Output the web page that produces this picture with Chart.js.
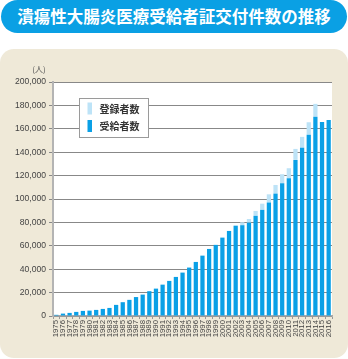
<!DOCTYPE html>
<html lang="ja">
<head>
<meta charset="utf-8">
<title>潰瘍性大腸炎医療受給者証交付件数の推移</title>
<script src="https://cdn.jsdelivr.net/npm/chart.js@4"></script>
<style>
    html, body { margin: 0; padding: 0; background: #fff; }
    #wrap { position: relative; width: 348px; height: 359px; overflow: hidden; }
    #title {
        position: absolute; left: 1px; top: 0; width: 346px; height: 33px;
        border-radius: 17px; background: #0aa0e4; color: #fff;
        font: bold 16.5px "Noto Sans CJK JP", sans-serif;
        line-height: 33px; text-align: center;
    }
    #panel {
        position: absolute; left: 0; top: 49px; width: 348px; height: 309px;
        border-radius: 14px; background: #efe9d8;
    }
    #myChart { position: absolute; left: 0; top: 0; }
</style>
</head>
<body>
<div id="wrap">
    <div id="title">潰瘍性大腸炎医療受給者証交付件数の推移</div>
    <div id="panel"></div>
    <canvas id="myChart" width="348" height="359"></canvas>
</div>
<script>
var years = ['1975', '1976', '1977', '1978', '1979', '1980', '1981', '1982', '1983', '1984',
    '1985', '1986', '1987', '1988', '1989', '1990', '1991', '1992', '1993', '1994',
    '1995', '1996', '1997', '1998', '1999', '2000', '2001', '2002', '2003', '2004',
    '2005', '2006', '2007', '2008', '2009', '2010', '2011', '2012', '2013', '2014',
    '2015', '2016'];

// 受給者数
var recipients = [1000, 2050, 2650, 3500, 4350, 4600, 5200, 6050, 6900, 9500,
    11800, 13800, 16200, 18300, 21200, 23400, 26800, 30000, 33400, 37100,
    41400, 46200, 51600, 57300, 60800, 67000, 72700, 77200, 77600, 79800,
    85600, 90700, 97000, 104600, 113500, 117800, 133400, 143700, 155000, 170400,
    165900, 167600];

// 登録者数 (受給者数の上に積み上げ)
var registered = [0, 0, 0, 0, 0, 0, 0, 0, 0, 0,
    0, 0, 0, 0, 0, 0, 0, 0, 0, 0,
    0, 0, 0, 0, 0, 0, 0, 0, 2500, 3100,
    4200, 5300, 7000, 7400, 7700, 8500, 9400, 9400, 10600, 10900,
    0, 0];

var yTicks = [0, 20000, 40000, 60000, 80000, 100000, 120000, 140000, 160000, 180000, 200000];

var BLUE = '#0aa0e6';
var LIGHT = '#bde3f7';

// 白い描画エリア
var plotBg = {
    id: 'plotBg',
    beforeDraw: function (chart) {
        var a = chart.chartArea, c = chart.ctx;
        c.save();
        c.fillStyle = '#fff';
        c.fillRect(a.left, a.top, a.right - a.left, a.bottom - a.top);
        c.restore();
    }
};

// 凡例と単位
var boxLegend = {
    id: 'boxLegend',
    afterDraw: function (chart) {
        var a = chart.chartArea, c = chart.ctx;
        var x = a.left + 26.5, y = a.top + 16.5, w = 69, h = 39;
        c.save();
        c.fillStyle = '#fff';
        c.fillRect(x, y, w, h);
        c.strokeStyle = '#9a9a9a';
        c.lineWidth = 1;
        c.strokeRect(x, y, w, h);

        var items = [chart.data.datasets[1], chart.data.datasets[0]];
        c.font = 'bold 10px "Noto Sans CJK JP", sans-serif';
        c.textBaseline = 'middle';
        items.forEach(function (ds, i) {
            var cy = y + 10 + i * 17.5;
            c.fillStyle = ds.backgroundColor;
            c.fillRect(x + 8, cy - 6, 4.5, 12);
            c.fillStyle = '#333';
            c.fillText(ds.label, x + 20, cy + 0.5);
        });

        c.font = '8px "Noto Sans CJK JP", sans-serif';
        c.fillStyle = '#555';
        c.textAlign = 'center';
        c.fillText('(人)', a.left - 14, a.top - 13);
        c.restore();
    }
};

document.addEventListener('DOMContentLoaded', function () {
    var ctx = document.getElementById('myChart').getContext('2d');

    var myChart = new Chart(ctx, {
        type: 'bar',
        data: {
            labels: years,
            datasets: [{
                label: '受給者数',
                data: recipients,
                backgroundColor: BLUE,
                barPercentage: 0.64,
                categoryPercentage: 1
            }, {
                label: '登録者数',
                data: registered,
                backgroundColor: LIGHT,
                barPercentage: 0.64,
                categoryPercentage: 1
            }]
        },
        options: {
            responsive: false,
            animation: false,
            layout: {
                padding: { left: 0, right: 16, top: 82, bottom: 10 }
            },
            plugins: {
                legend: { display: false },
                tooltip: { enabled: false }
            },
            scales: {
                x: {
                    stacked: true,
                    afterFit: function (scale) { scale.height = 33; },
                    grid: {
                        display: true,
                        drawOnChartArea: false,
                        drawTicks: true,
                        tickLength: 3,
                        color: '#999',
                        offset: true
                    },
                    border: { color: '#aaa', width: 1.5 },
                    ticks: {
                        autoSkip: false,
                        minRotation: 90,
                        maxRotation: 90,
                        padding: 1,
                        color: '#444',
                        font: { family: 'Liberation Sans, sans-serif', size: 7.8 }
                    }
                },
                y: {
                    stacked: true,
                    min: 0,
                    max: 200000,
                    afterFit: function (scale) { scale.width = 53; },
                    afterBuildTicks: function (scale) {
                        scale.ticks = yTicks.map(function (v) { return { value: v }; });
                    },
                    grid: {
                        color: '#888',
                        lineWidth: 1,
                        tickLength: 4
                    },
                    border: { color: '#b4b4b4', width: 2 },
                    ticks: {
                        padding: 3,
                        color: '#444',
                        font: { family: 'Liberation Sans, sans-serif', size: 8.6 },
                        callback: function (v) { return Number(v).toLocaleString('en-US'); }
                    }
                }
            }
        },
        plugins: [plotBg, boxLegend]
    });
});
</script>
</body>
</html>
